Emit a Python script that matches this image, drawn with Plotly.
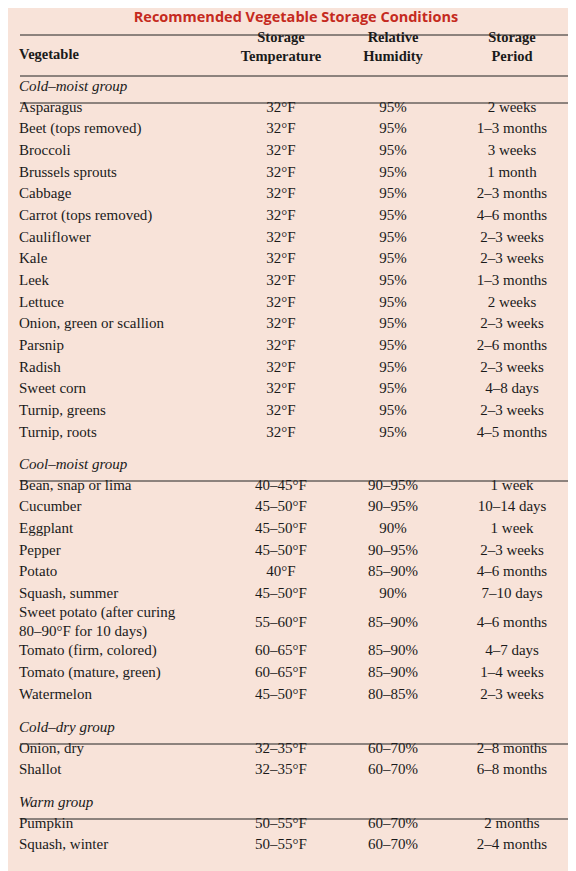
import plotly.graph_objects as go

groups = ["Cold–moist group", "Cool–moist group", "Cold–dry group", "Warm group"]
vegetables = [
    ["Asparagus", "Beet (tops removed)", "Broccoli", "Brussels sprouts", "Cabbage", "Carrot (tops removed)",
     "Cauliflower", "Kale", "Leek", "Lettuce", "Onion, green or scallion", "Parsnip", "Radish", "Sweet corn",
     "Turnip, greens", "Turnip, roots"],
    ["Bean, snap or lima", "Cucumber", "Eggplant", "Pepper", "Potato", "Squash, summer",
     "Sweet potato (after curing<br>80–90°F for 10 days)", "Tomato (firm, colored)", "Tomato (mature, green)", "Watermelon"],
    ["Onion, dry", "Shallot"],
    ["Pumpkin", "Squash, winter"],
]
temperature = [
    ["32°F"] * 16,
    ["40–45°F", "45–50°F", "45–50°F", "45–50°F", "40°F", "45–50°F", "55–60°F", "60–65°F", "60–65°F", "45–50°F"],
    ["32–35°F", "32–35°F"],
    ["50–55°F", "50–55°F"],
]
humidity = [
    ["95%"] * 16,
    ["90–95%", "90–95%", "90%", "90–95%", "85–90%", "90%", "85–90%", "85–90%", "85–90%", "80–85%"],
    ["60–70%", "60–70%"],
    ["60–70%", "60–70%"],
]
period = [
    ["2 weeks", "1–3 months", "3 weeks", "1 month", "2–3 months", "4–6 months", "2–3 weeks", "2–3 weeks",
     "1–3 months", "2 weeks", "2–3 weeks", "2–6 months", "2–3 weeks", "4–8 days", "2–3 weeks", "4–5 months"],
    ["1 week", "10–14 days", "1 week", "2–3 weeks", "4–6 months", "7–10 days", "4–6 months", "4–7 days",
     "1–4 weeks", "2–3 weeks"],
    ["2–8 months", "6–8 months"],
    ["2 months", "2–4 months"],
]
headers = ["Vegetable", "Storage<br>Temperature", "Relative<br>Humidity", "Storage<br>Period"]

# layout (pixel positions)
W, H = 576, 871
step = 21.65
dy = -6
group_y = [85, 463, 726, 801]
rule_y = [27, 68] + [g + 10 for g in group_y]
col_x = [11, 273, 385, 504]
FONT = "Liberation Serif"
INK = "#1a1a1a"

fig = go.Figure()
xs, ys, ts = [[], [], [], []], [[], [], [], []], [[], [], [], []]
for gi, g in enumerate(groups):
    y = group_y[gi] + 21
    for ri, v in enumerate(vegetables[gi]):
        if "<br>" in v:
            y += 7
        for ci, val in enumerate([v, temperature[gi][ri], humidity[gi][ri], period[gi][ri]]):
            xs[ci].append(col_x[ci]); ys[ci].append(y + dy); ts[ci].append(val)
        y += step + (7 if "<br>" in v else 0)

for ci in range(4):
    fig.add_trace(go.Scatter(x=xs[ci], y=ys[ci], text=ts[ci], mode="text",
                             textposition="middle right" if ci == 0 else "middle center",
                             textfont=dict(family=FONT, size=15, color=INK), hoverinfo="skip"))

fig.add_trace(go.Scatter(x=[11] * 4, y=[g + dy for g in group_y], text=groups, mode="text",
                         textposition="middle right",
                         textfont=dict(family=FONT, size=15, color=INK, style="italic"), hoverinfo="skip"))
fig.add_trace(go.Scatter(x=[11, 273, 385, 504], y=[53 + dy, 46 + dy, 46 + dy, 46 + dy], text=headers, mode="text",
                         textposition=["middle right"] + ["middle center"] * 3,
                         textfont=dict(family=FONT, size=14.5, color=INK, weight="bold"), hoverinfo="skip"))
fig.add_trace(go.Scatter(x=[288], y=[16 + dy], text=["Recommended Vegetable Storage Conditions"], mode="text",
                         textfont=dict(family="Open Sans", size=14.5, color="#c52a20", weight="bold"), hoverinfo="skip"))

for ry in rule_y:
    fig.add_shape(type="line", x0=12, x1=564, y0=ry, y1=ry, line=dict(color="#222", width=1))

fig.update_layout(width=W, height=H, margin=dict(l=0, r=0, t=0, b=0), showlegend=False,
                  paper_bgcolor="#f8e3d9", plot_bgcolor="#f8e3d9",
                  xaxis=dict(range=[0, W], visible=False, fixedrange=True),
                  yaxis=dict(range=[H, 0], visible=False, fixedrange=True))
fig.write_html("out.html")
